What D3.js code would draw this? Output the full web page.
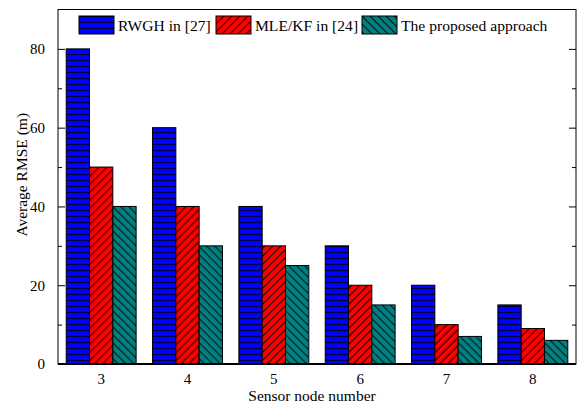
<!DOCTYPE html>
<html>
<head>
<meta charset="utf-8">
<script src="https://cdn.jsdelivr.net/npm/d3@7"></script>
<style>
  html, body { margin: 0; padding: 0; background: #fff; }
  svg { display: block; font-family: "Liberation Serif", "Times New Roman", serif; }
</style>
</head>
<body>
<svg id="chart" width="581" height="404"></svg>
<script>
// Sensor node counts on the x axis
const categories = ["3", "4", "5", "6", "7", "8"];
// Average RMSE (m) for each method
const rwgh = [80, 60, 40, 30, 20, 15];
const mleKf = [50, 40, 30, 20, 10, 9];
const proposed = [40, 30, 25, 15, 7, 6];
const seriesNames = ["RWGH in [27]", "MLE/KF in [24]", "The proposed approach"];
const yTicks = [0, 20, 40, 60, 80];
const yMinorTicks = [10, 30, 50, 70];

const series = [
  { name: seriesNames[0], values: rwgh, fill: "url(#pat-h)" },
  { name: seriesNames[1], values: mleKf, fill: "url(#pat-fwd)" },
  { name: seriesNames[2], values: proposed, fill: "url(#pat-back)" }
];

const FONT = "Liberation Serif";
const svg = d3.select("#chart");
const margin = { left: 58, right: 5, top: 9.5, bottom: 40 };
const W = 581, H = 404;
const x0 = margin.left, x1 = W - margin.right;
const yTop = margin.top, yBot = H - margin.bottom;

// Fill patterns: horizontal stripes, forward and backward hatches
const defs = svg.append("defs");
function stripePattern(id, color, lineColor, size, path) {
  const p = defs.append("pattern")
    .attr("id", id)
    .attr("patternUnits", "userSpaceOnUse")
    .attr("width", size).attr("height", size);
  p.append("rect").attr("width", size).attr("height", size).attr("fill", color);
  p.append("path").attr("d", path).attr("stroke", lineColor)
    .attr("stroke-width", 1.1).attr("fill", "none");
}
stripePattern("pat-h", "#0000ff", "#000033", 6, "M0,0.5H6");
stripePattern("pat-fwd", "#ff0000", "#200000", 8, "M0,8L8,0M-2,2L2,-2M6,10L10,6");
stripePattern("pat-back", "#008080", "#001515", 8, "M0,0L8,8M-2,6L2,10M6,-2L10,2");

const x = d3.scaleBand().domain(categories).range([x0, x1]).paddingInner(0.19).paddingOuter(0.095);
const xs = d3.scaleBand().domain(d3.range(series.length)).range([0, x.bandwidth()]);
const y = d3.scaleLinear().domain([0, 90]).range([yBot, yTop]);

// Bars
const groups = svg.append("g").selectAll("g")
  .data(categories).join("g")
  .attr("transform", d => `translate(${x(d)},0)`);
groups.selectAll("rect")
  .data((d, i) => series.map((s, j) => ({ j, v: s.values[i], fill: s.fill })))
  .join("rect")
  .attr("x", d => xs(d.j))
  .attr("width", xs.bandwidth())
  .attr("y", d => y(d.v))
  .attr("height", d => y(0) - y(d.v))
  .attr("fill", d => d.fill)
  .attr("stroke", "#000")
  .attr("stroke-width", 1);

// Frame
svg.append("rect")
  .attr("x", x0).attr("y", yTop)
  .attr("width", x1 - x0).attr("height", yBot - yTop)
  .attr("fill", "none").attr("stroke", "#000").attr("stroke-width", 1);
svg.append("line")
  .attr("x1", x0).attr("x2", x1).attr("y1", yBot).attr("y2", yBot)
  .attr("stroke", "#000").attr("stroke-width", 2);

// Left axis with inward ticks
const yAxisL = d3.axisLeft(y).tickValues(yTicks).tickSize(-7).tickPadding(13).tickFormat(d3.format("d"));
const gL = svg.append("g").attr("transform", `translate(${x0},0)`).call(yAxisL)
  .attr("font-family", FONT).attr("font-size", 15);
gL.select(".domain").remove();
gL.selectAll("text").attr("fill", "#000");
gL.selectAll("line").attr("stroke", "#000");
const gLm = svg.append("g").attr("transform", `translate(${x0},0)`)
  .call(d3.axisLeft(y).tickValues(yMinorTicks).tickSize(-4).tickFormat(""));
gLm.select(".domain").remove();

// Right mirror ticks
const gR = svg.append("g").attr("transform", `translate(${x1},0)`)
  .call(d3.axisRight(y).tickValues(yTicks).tickSize(-7).tickFormat(""));
gR.select(".domain").remove();
const gRm = svg.append("g").attr("transform", `translate(${x1},0)`)
  .call(d3.axisRight(y).tickValues(yMinorTicks).tickSize(-4).tickFormat(""));
gRm.select(".domain").remove();

// Bottom axis labels
const gB = svg.append("g").attr("transform", `translate(0,${yBot})`)
  .call(d3.axisBottom(x).tickSize(0).tickPadding(9))
  .attr("font-family", FONT).attr("font-size", 15);
gB.select(".domain").remove();
gB.selectAll("text").attr("fill", "#000");

// Axis titles
svg.append("text")
  .attr("x", (x0 + x1) / 2 - 5).attr("y", 401)
  .attr("text-anchor", "middle").attr("font-size", 15.5).attr("font-family", FONT)
  .text("Sensor node number");
svg.append("text")
  .attr("transform", `translate(27,${(yTop + yBot) / 2 - 12}) rotate(-90)`)
  .attr("text-anchor", "middle").attr("font-size", 15.5).attr("font-family", FONT)
  .text("Average RMSE (m)");

// Legend
const legendX = [79, 216, 362];
const leg = svg.append("g").selectAll("g").data(series).join("g")
  .attr("transform", (d, i) => `translate(${legendX[i]},16)`);
leg.append("rect").attr("width", 35).attr("height", 18)
  .attr("fill", d => d.fill).attr("stroke", "#000").attr("stroke-width", 1);
leg.append("text").attr("x", 39).attr("y", 14.5)
  .attr("font-size", 15.6).attr("font-family", FONT).text(d => d.name);
</script>
</body>
</html>
